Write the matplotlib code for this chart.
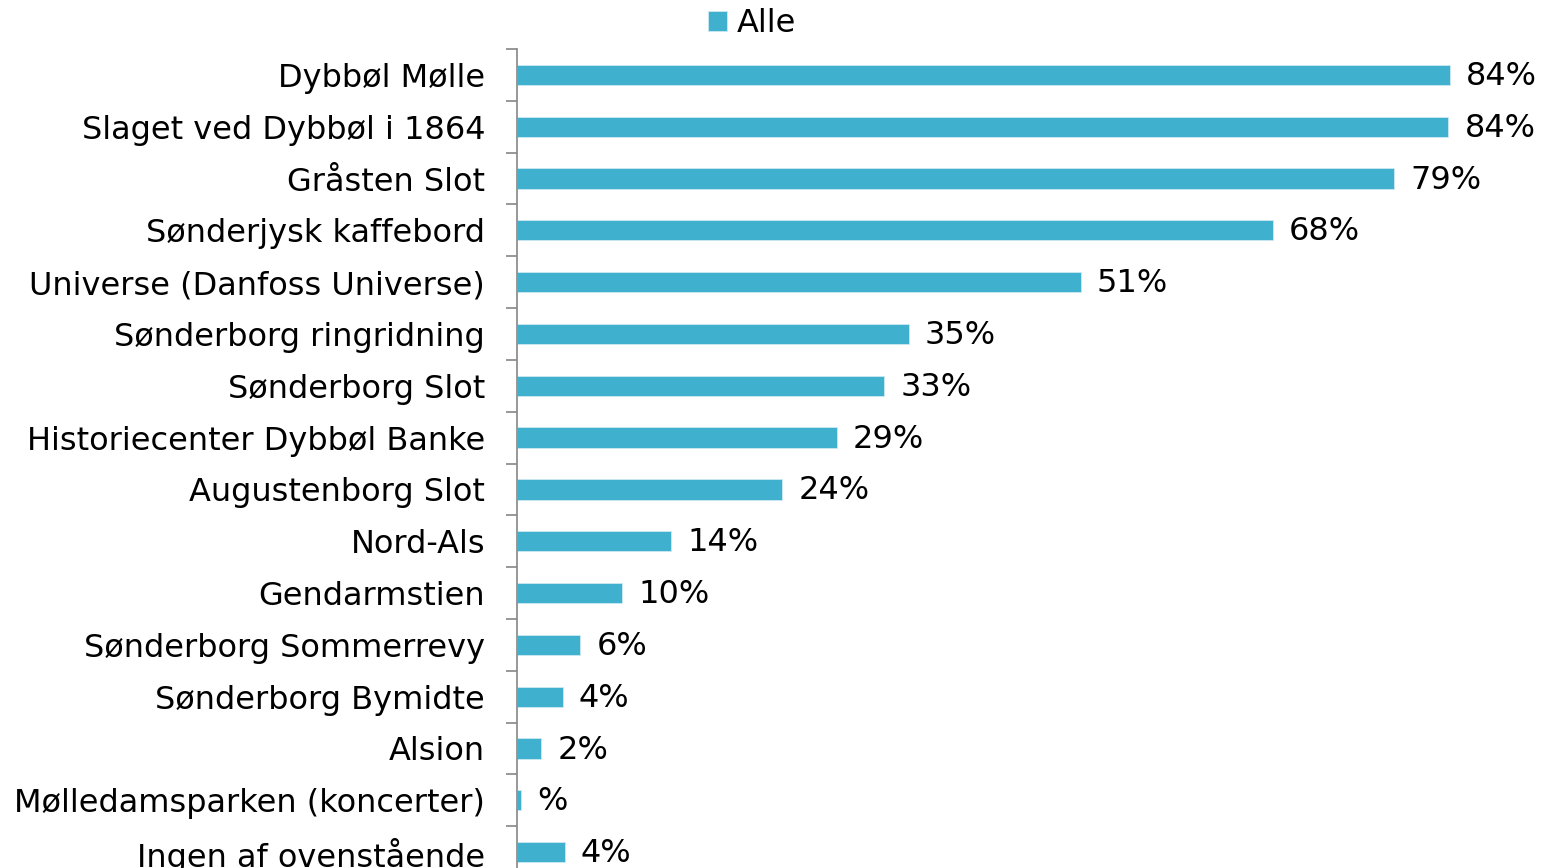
import numpy as np
import matplotlib.pyplot as plt

# data
categories = ['Dybbøl Mølle', 'Slaget ved Dybbøl i 1864', 'Gråsten Slot',
              'Sønderjysk kaffebord', 'Universe (Danfoss Universe)',
              'Sønderborg ringridning', 'Sønderborg Slot',
              'Historiecenter Dybbøl Banke', 'Augustenborg Slot', 'Nord-Als',
              'Gendarmstien', 'Sønderborg Sommerrevy', 'Sønderborg Bymidte',
              'Alsion', 'Mølledamsparken (koncerter)', 'Ingen af ovenstående']
values = [84.05, 83.9, 79.0, 68.1, 50.8, 35.3, 33.1, 28.8, 23.9, 13.9,
          9.5, 5.7, 4.1, 2.2, 0.4, 4.3]
value_labels = ['84%', '84%', '79%', '68%', '51%', '35%', '33%', '29%',
                '24%', '14%', '10%', '6%', '4%', '2%', '%', '4%']
series_name = 'Alle'

bar_color = '#3FB1CE'
axis_color = '#868686'
fs = 23

fig = plt.figure(figsize=(15.43, 8.68), dpi=100)
ax = fig.add_axes([517/1543, -10/868, 999/1543, (878-49)/868])

n = len(categories)
y = np.arange(n)
ax.barh(y, values, height=0.39, color=bar_color, edgecolor='#cfe9f1',
        linewidth=0.6, label=series_name)

for yi, v, lab in zip(y, values, value_labels):
    ax.text(v + 1.45, yi + 0.03, lab, va='center', ha='left', fontsize=fs,
            color='black')

ax.set_ylim(n - 0.5, -0.5)
ax.set_xlim(0, 90)
ax.set_yticks(y)
ax.set_yticklabels(categories, fontsize=fs)
ax.set_yticks(np.arange(n + 1) - 0.5, minor=True)
ax.tick_params(axis='y', which='major', length=0, pad=23)
ax.tick_params(axis='y', which='minor', length=8, width=1.2, color=axis_color)
ax.set_xticks([])

for s in ['top', 'right', 'bottom']:
    ax.spines[s].set_visible(False)
ax.spines['left'].set_color(axis_color)
ax.spines['left'].set_linewidth(1.2)

leg = fig.legend(loc='center', bbox_to_anchor=(752/1543, 1 - 24/868),
                 frameon=False, fontsize=fs, handlelength=0.6,
                 handleheight=0.6, handletextpad=0.3)

fig.savefig('out.png', dpi=100)
plt.close()
